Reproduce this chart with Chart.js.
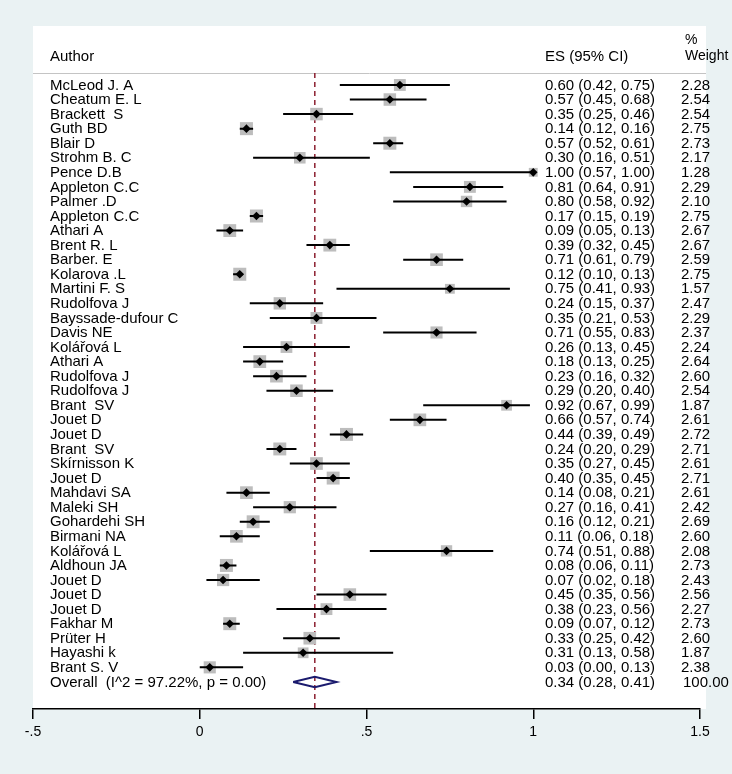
<!DOCTYPE html>
<html>
<head>
<meta charset="utf-8">
<script src="https://cdn.jsdelivr.net/npm/chart.js@4.4.1/dist/chart.umd.min.js"></script>
<style>
body{margin:0;background:#eaf2f3;}
canvas{display:block;}
</style>
</head>
<body>
<canvas id="myChart" width="732" height="774"></canvas>
<script>
// study data
let authors=['McLeod J. A','Cheatum E. L','Brackett  S','Guth BD','Blair D','Strohm B. C','Pence D.B','Appleton C.C','Palmer .D','Appleton C.C',
    'Athari A','Brent R. L','Barber. E','Kolarova .L','Martini F. S','Rudolfova J','Bayssade-dufour C','Davis NE','Kolářová L','Athari A',
    'Rudolfova J','Rudolfova J','Brant  SV','Jouet D','Jouet D','Brant  SV','Skírnisson K','Jouet D','Mahdavi SA','Maleki SH',
    'Gohardehi SH','Birmani NA','Kolářová L','Aldhoun JA','Jouet D','Jouet D','Jouet D','Fakhar M','Prüter H','Hayashi k','Brant S. V'];
let es=[0.60,0.57,0.35,0.14,0.57,0.30,1.00,0.81,0.80,0.17,
    0.09,0.39,0.71,0.12,0.75,0.24,0.35,0.71,0.26,0.18,
    0.23,0.29,0.92,0.66,0.44,0.24,0.35,0.40,0.14,0.27,
    0.16,0.11,0.74,0.08,0.07,0.45,0.38,0.09,0.33,0.31,0.03];
let lower=[0.42,0.45,0.25,0.12,0.52,0.16,0.57,0.64,0.58,0.15,
    0.05,0.32,0.61,0.10,0.41,0.15,0.21,0.55,0.13,0.13,
    0.16,0.20,0.67,0.57,0.39,0.20,0.27,0.35,0.08,0.16,
    0.12,0.06,0.51,0.06,0.02,0.35,0.23,0.07,0.25,0.13,0.00];
let upper=[0.75,0.68,0.46,0.16,0.61,0.51,1.00,0.91,0.92,0.19,
    0.13,0.45,0.79,0.13,0.93,0.37,0.53,0.83,0.45,0.25,
    0.32,0.40,0.99,0.74,0.49,0.29,0.45,0.45,0.21,0.41,
    0.21,0.18,0.88,0.11,0.18,0.56,0.56,0.12,0.42,0.58,0.13];
let weights=[2.28,2.54,2.54,2.75,2.73,2.17,1.28,2.29,2.10,2.75,
    2.67,2.67,2.59,2.75,1.57,2.47,2.29,2.37,2.24,2.64,
    2.60,2.54,1.87,2.61,2.72,2.71,2.61,2.71,2.61,2.42,
    2.69,2.60,2.08,2.73,2.43,2.56,2.27,2.73,2.60,1.87,2.38];

let overallLabel='Overall  (I^2 = 97.22%, p = 0.00)';
let overallEs=0.345;
let overallLo=0.28;
let overallHi=0.41;
let overallText='0.34 (0.28, 0.41)';
let overallWeight='100.00';

let xTickValues=[-0.5,0,0.5,1,1.5];
let xTickLabels=['-.5','0','.5','1','1.5'];

// layout of the row axis (row 0 = first study, counted downwards)
let overallRow=authors.length;
let yMin=-4.05, yMax=42.86;
let headerRow=-1.95, pctRow=-3.05, headerLineRow=-0.82;
let font='"Liberation Sans", Arial, sans-serif';

// build datasets
let ciData=[];
let pointData=[];
authors.map((a,i)=>{
    ciData.push({x:lower[i],y:i});
    ciData.push({x:upper[i],y:i});
    ciData.push({x:null,y:null});
    pointData.push({x:es[i],y:i,w:weights[i]});
})
let diamondData=[
    {x:overallLo,y:overallRow},
    {x:overallEs,y:overallRow-0.36},
    {x:overallHi,y:overallRow},
    {x:overallEs,y:overallRow+0.36},
    {x:overallLo,y:overallRow}
];
let refData=[{x:overallEs,y:headerLineRow},{x:overallEs,y:yMax}];

// grey frame + white plot region + header rule
const bgPlugin={
    id:'bg',
    beforeDraw(chart){
        let c=chart.ctx, a=chart.chartArea, y=chart.scales.y;
        c.save();
        c.fillStyle='#eaf2f3';
        c.fillRect(0,0,chart.width,chart.height);
        c.fillStyle='#ffffff';
        c.fillRect(a.left,a.top,a.right-a.left+6,a.bottom-a.top);
        let ly=Math.round(y.getPixelForValue(headerLineRow))+0.5;
        c.strokeStyle='#c4c4c4';
        c.lineWidth=1;
        c.beginPath();
        c.moveTo(a.left,ly);
        c.lineTo(a.right+6,ly);
        c.stroke();
        c.restore();
    }
};

// text columns
const textPlugin={
    id:'forestText',
    afterDraw(chart){
        let c=chart.ctx, a=chart.chartArea, y=chart.scales.y;
        let authorX=a.left+17, esX=a.left+512, wX=a.left+648;
        c.save();
        c.fillStyle='#000';
        c.textBaseline='middle';
        c.textAlign='left';
        c.font='15px '+font;
        c.fillText('Author',authorX,y.getPixelForValue(headerRow));
        c.fillText('ES (95% CI)',esX,y.getPixelForValue(headerRow));
        authors.map((name,i)=>{
            let py=y.getPixelForValue(i)+0.5;
            c.fillText(name,authorX,py);
            c.fillText(es[i].toFixed(2)+' ('+lower[i].toFixed(2)+', '+upper[i].toFixed(2)+')',esX,py);
            c.fillText(weights[i].toFixed(2),wX,py);
        })
        let oy=y.getPixelForValue(overallRow)+0.5;
        c.fillText(overallLabel,authorX,oy);
        c.fillText(overallText,esX,oy);
        c.fillText(overallWeight,wX+2,oy);
        c.font='14px '+font;
        c.fillText('%',wX+4,y.getPixelForValue(pctRow));
        c.fillText('Weight',wX+4,y.getPixelForValue(headerRow));
        c.restore();
    }
};

var ctx=document.getElementById('myChart').getContext('2d');
var myChart=new Chart(ctx,{
    type:'scatter',
    data:{
        datasets:[
            {
                // reference line at the pooled estimate
                type:'line',
                data:refData,
                borderColor:'#8c1f30',
                borderWidth:1.5,
                borderDash:[5,4],
                pointRadius:0,
                fill:false,
                order:5
            },
            {
                // weight boxes
                data:pointData,
                pointStyle:'rect',
                pointRadius:ctx=>{
                    let w=ctx.raw?ctx.raw.w:1;
                    return 7.85*Math.sqrt(w)/Math.SQRT2;
                },
                backgroundColor:'#bdbdbd',
                borderWidth:0,
                order:4
            },
            {
                // confidence intervals
                type:'line',
                data:ciData,
                borderColor:'#000',
                borderWidth:2,
                pointRadius:0,
                spanGaps:false,
                fill:false,
                order:3
            },
            {
                // point estimates
                data:pointData,
                pointStyle:'rectRot',
                pointRadius:4.3,
                backgroundColor:'#000',
                borderWidth:0,
                order:2
            },
            {
                // overall diamond
                type:'line',
                data:diamondData,
                borderColor:'#1b1b6e',
                borderWidth:2,
                pointRadius:0,
                tension:0,
                fill:false,
                order:1
            }
        ]
    },
    options:{
        responsive:false,
        animation:false,
        layout:{padding:{top:26,left:33,right:32,bottom:0}},
        plugins:{legend:{display:false},tooltip:{enabled:false}},
        scales:{
            x:{
                type:'linear',
                min:-0.5,
                max:1.5,
                afterBuildTicks:scale=>{
                    scale.ticks=xTickValues.map(v=>({value:v}));
                },
                afterFit:scale=>{
                    scale.height=65;
                },
                ticks:{
                    callback:(v,i)=>xTickLabels[i],
                    color:'#000',
                    padding:5,
                    font:{family:font,size:14},
                    maxRotation:0
                },
                grid:{
                    drawOnChartArea:false,
                    drawTicks:true,
                    tickLength:10,
                    color:'#000',
                    lineWidth:1.5
                },
                border:{display:true,color:'#000',width:1.5}
            },
            y:{
                type:'linear',
                display:false,
                reverse:true,
                min:yMin,
                max:yMax
            }
        }
    },
    plugins:[bgPlugin,textPlugin]
});
</script>
</body>
</html>
